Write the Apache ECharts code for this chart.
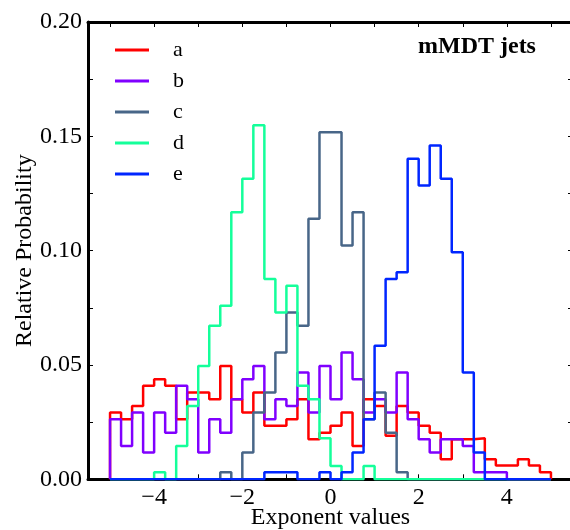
<!DOCTYPE html>
<html>
<head>
<meta charset="utf-8">
<script src="https://cdn.jsdelivr.net/npm/echarts@6/dist/echarts.min.js"></script>
<style>
html,body{margin:0;padding:0;background:#fff;}
#chart{width:570px;height:530px;}
</style>
</head>
<body>
<div id="chart"></div>
<script>
// Histogram bins: 40 bins of width 0.25 starting at -5
const binStart = -5;
const binWidth = 0.25;
const seriesNames = ['a', 'b', 'c', 'd', 'e'];

const valuesA = [0.0292, 0.0263, 0.0321, 0.0409, 0.0438, 0.0409, 0.0263, 0.0380, 0.0380, 0.0350,
                 0.0496, 0.0350, 0.0292, 0.0380, 0.0234, 0.0234, 0.0263, 0.0350, 0.0175, 0.0204,
                 0.0234, 0.0292, 0.0146, 0.0350, 0.0321, 0.0190, 0.0321, 0.0292, 0.0234, 0.0204,
                 0.0088, 0.0175, 0.0175, 0.0180, 0.0088, 0.0060, 0.0060, 0.0088, 0.0060, 0.0031];
const valuesB = [0.0263, 0.0146, 0.0292, 0.0117, 0.0292, 0.0204, 0.0409, 0.0350, 0.0117, 0.0263,
                 0.0204, 0.0350, 0.0438, 0.0496, 0.0263, 0.0350, 0.0321, 0.0467, 0.0292, 0.0496,
                 0.0350, 0.0555, 0.0438, 0.0292, 0.0350, 0.0292, 0.0467, 0.0263, 0.0175, 0.0117,
                 0.0175, 0.0175, 0.0146, 0.0031, 0.0031, 0.0031, 0, 0, 0, 0];
const valuesC = [0, 0, 0, 0, 0, 0, 0, 0, 0, 0,
                 0.0031, 0, 0.0117, 0.0292, 0.0380, 0.0555, 0.0730, 0.0672, 0.1139, 0.1518,
                 0.1518, 0.1022, 0.1168, 0.0263, 0.0380, 0.0204, 0.0031, 0, 0, 0,
                 0, 0, 0, 0, 0, 0, 0, 0, 0, 0];
const valuesD = [0, 0, 0, 0, 0.0031, 0, 0.0146, 0.0321, 0.0496, 0.0672,
                 0.0759, 0.1168, 0.1314, 0.1548, 0.0876, 0.0730, 0.0847, 0.0409, 0.0350, 0.0180,
                 0.0058, 0, 0, 0.0058, 0, 0, 0, 0, 0, 0,
                 0, 0, 0, 0, 0, 0, 0, 0, 0, 0];
const valuesE = [0, 0, 0, 0, 0, 0, 0, 0, 0, 0,
                 0, 0, 0, 0, 0.0031, 0.0031, 0.0031, 0, 0, 0.0031,
                 0, 0.0031, 0.0117, 0.0263, 0.0584, 0.0876, 0.0905, 0.1402, 0.1285, 0.1460,
                 0.1314, 0.0993, 0.0467, 0.0117, 0, 0, 0, 0, 0, 0];

const xTickValues = [-5, -4, -3, -2, -1, 0, 1, 2, 3, 4, 5];
const xLabelValues = [-4, -2, 0, 2, 4];
const yTickValues = [0, 0.025, 0.05, 0.075, 0.1, 0.125, 0.15, 0.175, 0.2];
const yLabelValues = [0, 0.05, 0.1, 0.15, 0.2];

const colors = ['#ff0000', '#8000ff', '#486688', '#14ff9a', '#0026ff'];
const allValues = [valuesA, valuesB, valuesC, valuesD, valuesE];

function stepData(vals) {
  const pts = [[binStart, 0]];
  for (let k = 0; k < vals.length; k++) {
    pts.push([binStart + k * binWidth, vals[k]]);
  }
  const last = binStart + vals.length * binWidth;
  pts.push([last, vals[vals.length - 1]]);
  pts.push([last, 0]);
  return pts;
}

const FONT = 'Liberation Serif';
const chart = echarts.init(document.getElementById('chart'), null, {renderer: 'canvas'});

const xFmt = v => (v < 0 ? '\u2212' + (-v) : String(v));

const option = {
  animation: false,
  backgroundColor: '#fff',
  color: colors,
  title: {
    text: 'mMDT jets',
    left: 413,
    top: 30,
    textStyle: {fontFamily: FONT, fontWeight: 'bold', fontSize: 24, color: '#000'}
  },
  legend: {
    orient: 'vertical',
    left: 110,
    top: 34,
    itemWidth: 34,
    itemHeight: 3,
    itemGap: 9,
    icon: 'rect',
    data: seriesNames,
    textStyle: {fontFamily: FONT, fontSize: 22, color: '#000', lineHeight: 20, padding: [0, 0, 0, 19]}
  },
  grid: {left: 88, top: 22, width: 485, height: 457.3, outerBoundsMode: 'none', containLabel: false},
  xAxis: [{
    type: 'value', min: -5.5, max: 5.5, position: 'bottom',
    name: 'Exponent values', nameLocation: 'middle', nameGap: 26, nameMoveOverlap: false,
    nameTextStyle: {fontFamily: FONT, fontSize: 24, color: '#000'},
    axisLine: {show: true, onZero: false, lineStyle: {color: '#000', width: 3}},
    axisTick: {show: true, inside: true, length: 5, lineStyle: {color: '#000', width: 1}, customValues: xTickValues},
    axisLabel: {show: true, margin: 6, fontFamily: FONT, fontSize: 24, color: '#000', customValues: xLabelValues, formatter: xFmt},
    splitLine: {show: false}
  }, {
    type: 'value', min: -5.5, max: 5.5, position: 'top',
    axisLine: {show: true, onZero: false, lineStyle: {color: '#000', width: 3}},
    axisTick: {show: true, inside: true, length: 5, lineStyle: {color: '#000', width: 1}, customValues: xTickValues},
    axisLabel: {show: false},
    splitLine: {show: false}
  }],
  yAxis: [{
    type: 'value', min: 0, max: 0.2, position: 'left',
    name: 'Relative Probability', nameLocation: 'middle', nameGap: 51, nameRotate: 90, nameMoveOverlap: false,
    nameTextStyle: {fontFamily: FONT, fontSize: 24, color: '#000'},
    axisLine: {show: true, onZero: false, lineStyle: {color: '#000', width: 3}},
    axisTick: {show: true, inside: true, length: 5, lineStyle: {color: '#000', width: 1}, customValues: yTickValues},
    axisLabel: {show: true, margin: 6, fontFamily: FONT, fontSize: 24, color: '#000', customValues: yLabelValues, formatter: v => v.toFixed(2)},
    splitLine: {show: false}
  }, {
    type: 'value', min: 0, max: 0.2, position: 'right',
    axisLine: {show: true, onZero: false, lineStyle: {color: '#000', width: 3}},
    axisTick: {show: true, inside: true, length: 5, lineStyle: {color: '#000', width: 1}, customValues: yTickValues},
    axisLabel: {show: false},
    splitLine: {show: false}
  }],
  series: seriesNames.map((name, i) => ({
    name: name,
    type: 'line',
    step: 'end',
    xAxisIndex: 0,
    yAxisIndex: 0,
    symbol: 'none',
    data: stepData(allValues[i]),
    lineStyle: {color: colors[i], width: 2.5},
    itemStyle: {color: colors[i]},
    z: 2 + i
  }))
};
chart.setOption(option);
</script>
</body>
</html>
